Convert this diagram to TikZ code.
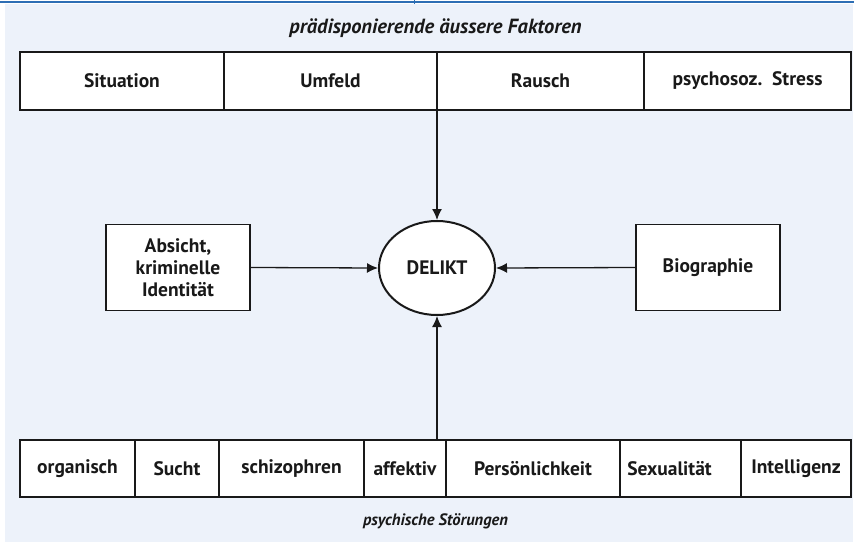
\documentclass[tikz,border=0pt]{standalone}
\usepackage{fontspec}
\setmainfont{PT Sans}
\usetikzlibrary{arrows.meta,shapes.geometric}
\definecolor{panel}{RGB}{237,242,250}
\definecolor{topline}{RGB}{45,110,180}
\definecolor{ink}{RGB}{25,25,25}
\begin{document}
\begin{tikzpicture}[x=1pt,y=-1pt,
  cell/.style={draw=ink, line width=1.3pt, fill=white, text=ink,
    font=\bfseries\fontsize{19.5}{22}\selectfont, inner sep=0pt, align=center},
  title/.style={text=ink, font=\bfseries\itshape\fontsize{#1}{21}\selectfont},
  arr/.style={draw=ink, line width=1.3pt, -{Latex[length=11pt,width=10pt]}}]
\useasboundingbox (0,0) rectangle (854,543);
\fill[panel] (5,4) rectangle (853,542);
\draw[topline, line width=2pt] (0,2.5) -- (854,2.5);
\draw[topline, line width=1pt] (414,0) -- (414,4);

\node[title=20.5] (t1) at (435.5,28) {prädisponierende äussere Faktoren};
\node[title=16.5] (t2) at (435.5,521) {psychische Störungen};

% top row
\node[cell, minimum width=204pt, minimum height=58pt] (sit) at (122,81) {Situation};
\node[cell, minimum width=213pt, minimum height=58pt] (umf) at (330.5,81) {Umfeld};
\node[cell, minimum width=207pt, minimum height=58pt] (rau) at (540.5,81) {Rausch};
\node[cell, minimum width=207pt, minimum height=58pt] (str) at (747.5,81) {psychosoz.~~Stress};

% bottom row
\node[cell, minimum width=115pt, minimum height=57pt] (org) at (77.5,468.5) {organisch};
\node[cell, minimum width=84pt, minimum height=57pt] (suc) at (177,468.5) {Sucht};
\node[cell, minimum width=145pt, minimum height=57pt] (sch) at (291.5,468.5) {schizophren};
\node[cell, minimum width=82pt, minimum height=57pt] (aff) at (405,468.5) {affektiv};
\node[cell, minimum width=174pt, minimum height=57pt] (per) at (533,468.5) {Persönlichkeit};
\node[cell, minimum width=121pt, minimum height=57pt] (sex) at (680.5,468.5) {Sexualität\hspace*{22pt}};
\node[cell, minimum width=110pt, minimum height=57pt] (int) at (796,468.5) {Intelligenz};

% middle
\node[cell, ellipse, line width=2pt, minimum width=116pt, minimum height=94pt] (del) at (437,268) {DELIKT};
\node[cell, minimum width=144pt, minimum height=86pt] (abs) at (178,267.5) {Absicht,\\kriminelle\\Identität};
\node[cell, minimum width=144pt, minimum height=86pt] (bio) at (708,267.5) {Biographie};

\draw[arr] (del.north |- umf.south) -- (del.north);
\draw[arr] (del.south |- aff.north) -- (del.south);
\draw[arr] (abs.east) -- (del.west);
\draw[arr] (bio.west) -- (del.east);
\end{tikzpicture}
\end{document}
